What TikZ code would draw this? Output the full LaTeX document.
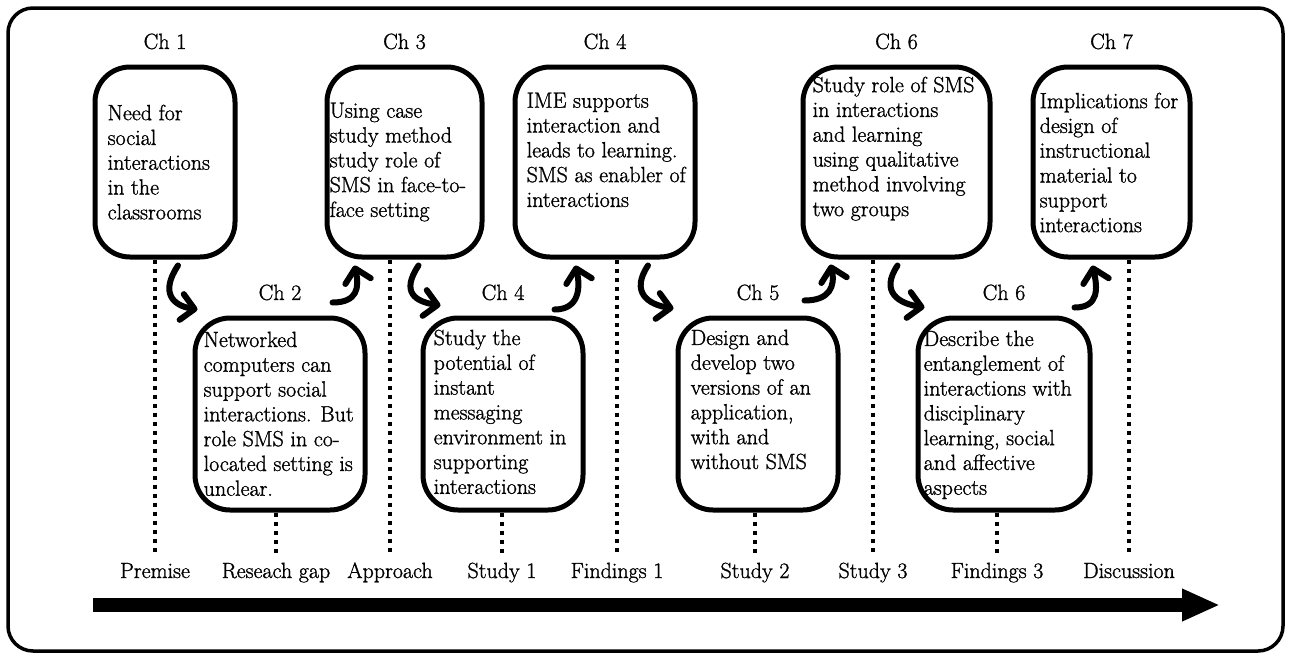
\documentclass[tikz,border=0pt]{standalone}
\usepackage{fontspec}
\newfontfamily\schfont{Latin Modern Roman}[FakeBold=1.2]
\usetikzlibrary{arrows.meta,positioning}

\tikzset{
  outerframe/.style={line width=3.5pt, rounded corners=25pt},
  chbox/.style={draw, line width=5pt, rounded corners=35pt, inner sep=0pt},
  txt/.style={align=left, inner sep=0pt, anchor=north west, font=\schfont\fontsize{22}{24.8}\selectfont},
  chap/.style={inner sep=0pt, font=\schfont\fontsize{22}{24.8}\selectfont},
  stage/.style={inner sep=0pt, text height=15pt, text depth=4pt, anchor=base, font=\schfont\fontsize{22}{24.8}\selectfont},
  dots/.style={line width=4.5pt, dash pattern=on 4.5pt off 4.5pt},
  hoparrow/.style={line width=6pt, line cap=round, -{Straight Barb[length=13pt,width=26pt,round]}},
  timeline/.style={line width=14pt, -{Triangle[length=38pt,width=30pt]}},
}

\begin{document}
\begin{tikzpicture}[x=1pt,y=-1pt]
\useasboundingbox (0,0) rectangle (1291,659);

\draw[outerframe] (8,8) rectangle (1283,651);

% Top row
\node[chbox, minimum width=140, minimum height=190] (b1) at (165,162) {};
\node[chbox, minimum width=155, minimum height=190] (b3) at (404.5,162) {};
\node[chbox, minimum width=180, minimum height=190] (b4t) at (605,162) {};
\node[chbox, minimum width=187, minimum height=190] (b6t) at (896.5,162) {};
\node[chbox, minimum width=157, minimum height=190] (b7) at (1111.5,162) {};

% Bottom row
\node[chbox, minimum width=170, minimum height=192] (b2) at (280,414) {};
\node[chbox, minimum width=160, minimum height=192] (b4b) at (503,414) {};
\node[chbox, minimum width=160, minimum height=192] (b5) at (758,414) {};
\node[chbox, minimum width=172, minimum height=192] (b6b) at (1004,414) {};

% Texts
\node[txt] (t1) at ([shift={(15,40)}]b1.north west) {Need for\\social\\interactions\\in the\\classrooms};
\node[txt] (t3) at ([shift={(5,38)}]b3.north west) {Using case\\study method\\study role of\\SMS in face-to-\\face setting};
\node[txt] (t4t) at ([shift={(14,28)}]b4t.north west) {IME supports\\interaction and\\leads to learning.\\SMS as enabler of\\interactions};
\node[txt] (t6t) at ([shift={(12,12)}]b6t.north west) {Study role of SMS\\in interactions\\and learning\\using qualitative\\method involving\\two groups};
\node[txt] (t7) at ([shift={(9,28)}]b7.north west) {Implications for\\design of\\instructional\\material to\\support\\interactions};
\node[txt] (t2) at ([shift={(11,16)}]b2.north west) {Networked\\computers can\\support social\\interactions. But\\role SMS in co-\\located setting is\\unclear.};
\node[txt] (t4b) at ([shift={(13,14)}]b4b.north west) {Study the\\potential of\\instant\\messaging\\environment in\\supporting\\interactions};
\node[txt] (t5) at ([shift={(15,14)}]b5.north west) {Design and\\develop two\\versions of an\\application,\\with and\\without SMS};
\node[txt] (t6b) at ([shift={(8,15)}]b6b.north west) {Describe the\\entanglement of\\interactions with\\disciplinary\\learning, social\\and affective\\aspects};

% Chapter labels
\node[chap, above=15pt of b1] (c1) {Ch 1};
\node[chap, above=15pt of b3] (c3) {Ch 3};
\node[chap, above=15pt of b4t] (c4t) {Ch 4};
\node[chap, above=15pt of b6t] (c6t) {Ch 6};
\node[chap, above=15pt of b7] (c7) {Ch 7};
\node[chap, above=15pt of b2] (c2) {Ch 2};
\node[chap, above=15pt of b4b] (c4b) {Ch 4};
\node[chap, above=15pt of b5] (c5) {Ch 5};
\node[chap, above=15pt of b6b] (c6b) {Ch 6};

% Stages
\foreach \n/\x/\b/\t in {premise/155/b1/Premise, gap/276/b2/Reseach gap, approach/390/b3/Approach,
  studyA/502/b4b/Study 1, findA/617/b4t/Findings 1, studyB/755/b5/Study 2,
  studyC/873/b6t/Study 3, findC/997/b6b/Findings 3, discussion/1129/b7/Discussion}{
  \node[stage] (\n) at (\x,578) {\t};
  \draw[dots] (\b.south -| \n) -- ([yshift=8pt]\n.north);
}

% Hops down
\draw[hoparrow] ([shift={(13,6)}]b1.south) .. controls +(-18,27) and +(-25,-4) .. ([shift={(5,-6)}]b2.north west);
\draw[hoparrow] ([shift={(14,6)}]b3.south) .. controls +(-18,27) and +(-25,-4) .. ([shift={(20,-10)}]b4b.north west);
\draw[hoparrow] ([shift={(43,6)}]b4t.south) .. controls +(-18,27) and +(-25,-4) .. ([shift={(-2,-7)}]b5.north west);
\draw[hoparrow] ([shift={(1,6)}]b6t.south) .. controls +(-18,27) and +(-25,-4) .. ([shift={(9,-8)}]b6b.north west);

% Hops up
\draw[hoparrow] ([shift={(-35,-13)}]b2.north east) .. controls +(25,0) and +(5,22) .. ([shift={(30,6)}]b3.south west);
\draw[hoparrow] ([shift={(-31,-6)}]b4b.north east) .. controls +(25,0) and +(5,22) .. ([shift={(63,6)}]b4t.south west);
\draw[hoparrow] ([shift={(-36,-15)}]b5.north east) .. controls +(25,0) and +(5,22) .. ([shift={(30,5)}]b6t.south west);
\draw[hoparrow] ([shift={(-18,-8)}]b6b.north east) .. controls +(25,0) and +(5,22) .. ([shift={(62,6)}]b7.south west);

% Time line
\coordinate (tl0) at (93,605);
\coordinate (tl1) at (1220,605);
\draw[timeline] (tl0) -- (tl1);
\end{tikzpicture}
\end{document}
